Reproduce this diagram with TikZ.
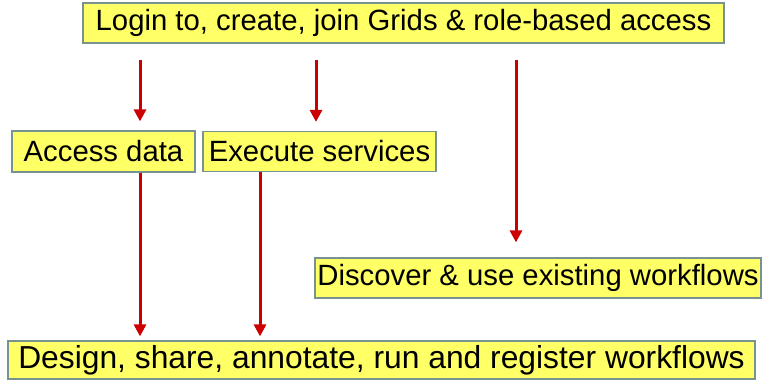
\documentclass[tikz,border=0pt]{standalone}
\usepackage{fontspec}
\setmainfont{Liberation Sans}
\usetikzlibrary{arrows.meta}
\definecolor{boxfill}{RGB}{255,255,102}
\definecolor{boxline}{RGB}{120,145,145}
\definecolor{arrred}{RGB}{204,0,0}
\begin{document}
\begin{tikzpicture}[x=1pt,y=-1pt,
  lbl/.style={draw=boxline,line width=1.2pt,fill=boxfill,inner sep=0pt,
    font=\fontsize{29.3}{32}\selectfont,text=black},
  arr/.style={draw=arrred,line width=3pt,-{Triangle[width=12pt,length=12pt]}}]
\useasboundingbox (0,0) rectangle (764,380);
\node[lbl,minimum width=641pt,minimum height=40pt] (top) at (403.5,23) {Login to, create, join Grids \& role-based access};
\node[lbl,minimum width=183pt,minimum height=41pt] (access) at (103.5,151.5) {Access data};
\node[lbl,minimum width=233pt,minimum height=40pt] (exec) at (319.5,151.5) {Execute services};
\node[lbl,minimum width=446pt,minimum height=40pt] (disc) at (538,278) {Discover \& use existing workflows};
\node[lbl,minimum width=747pt,minimum height=38pt,font=\fontsize{31.8}{34}\selectfont] (design) at (381.5,360) {Design, share, annotate, run and register workflows};
\coordinate (s1) at (140,60);
\coordinate (s2) at (316,60);
\coordinate (s3) at (516,60);
\coordinate (s4) at (140,0);
\coordinate (s5) at (260,0);
\draw[arr,shorten >=9pt] (s1) -- (s1 |- access.north);
\draw[arr,shorten >=9pt] (s2) -- (s2 |- exec.north);
\draw[arr,shorten >=15pt] (s3) -- (s3 |- disc.north);
\draw[arr,shorten >=4pt] (s4 |- access.south) -- (s4 |- design.north);
\draw[arr,shorten >=4pt] (s5 |- exec.south) -- (s5 |- design.north);
\end{tikzpicture}
\end{document}
